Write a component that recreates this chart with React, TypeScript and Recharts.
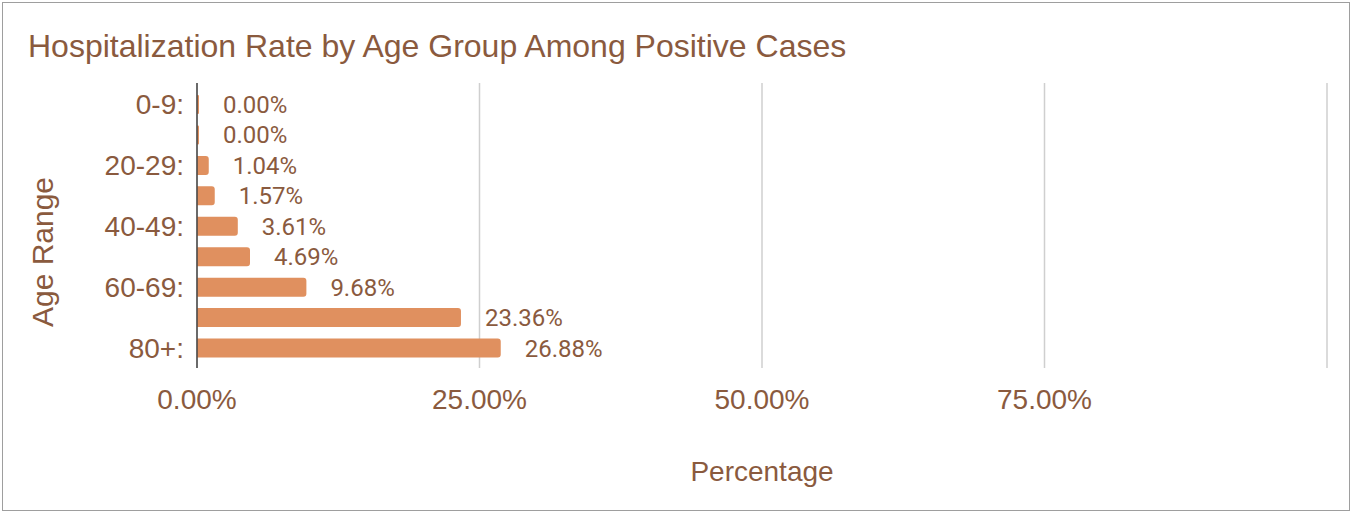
import React from 'react'
import { BarChart, Bar, XAxis, YAxis, CartesianGrid, LabelList, Label } from 'recharts'

const ageGroups = ['0-9', '10-19', '20-29', '30-39', '40-49', '50-59', '60-69', '70-79', '80+']
const hospitalRates = [0.0, 0.0, 1.04, 1.57, 3.61, 4.69, 9.68, 23.36, 26.88]
const xTicks = [0, 25, 50, 75, 100]

const TEXT = '#8a5a3e'
const BAR = '#e0905f'
const AXIS_FONT = '"Liberation Sans", Arial, sans-serif'

export default function App() {
  const data = ageGroups.map((age, i) => ({ age, rate: hospitalRates[i] }))

  return (
    <div style={{ position: 'absolute', left: 0, top: 0, width: 1351, height: 512, background: '#fff' }}>
      {/* outer frame */}
      <div
        style={{
          position: 'absolute', left: 2, top: 2, width: 1348, height: 509,
          boxSizing: 'border-box', border: '1px solid #9e9e9e',
        }}
      />
      <div
        style={{
          position: 'absolute', left: 28, top: 30, fontFamily: AXIS_FONT, fontSize: 32,
          lineHeight: '32px', color: TEXT, whiteSpace: 'nowrap',
        }}
      >
        Hospitalization Rate by Age Group Among Positive Cases
      </div>
      <div
        style={{
          position: 'absolute', left: 43, top: 252, transform: 'translate(-50%, -50%) rotate(-90deg)',
          fontFamily: AXIS_FONT, fontSize: 30, lineHeight: '30px', color: TEXT, whiteSpace: 'nowrap',
        }}
      >
        Age Range
      </div>

      <div style={{ position: 'absolute', left: 0, top: 0 }}>
        <BarChart
          width={1351}
          height={512}
          data={data}
          layout="vertical"
          margin={{ top: 83, right: 24, left: 77, bottom: 20 }}
        >
          <CartesianGrid horizontal={false} stroke="#cfcfcf" strokeWidth={1.5} />
          <XAxis
            type="number"
            dataKey="rate"
            domain={[0, 100]}
            ticks={xTicks}
            height={124}
            axisLine={false}
            tickLine={false}
            tickSize={0}
            tickMargin={21}
            tick={{ fill: TEXT, fontSize: 28, fontFamily: AXIS_FONT }}
            tickFormatter={(v: number) => (v >= 100 ? '' : `${v.toFixed(2)}%`)}
          >
            <Label
              value="Percentage"
              position="insideBottom"
              offset={11}
              fill={TEXT}
              fontSize={28}
              fontFamily={AXIS_FONT}
            />
          </XAxis>
          <YAxis
            type="category"
            dataKey="age"
            width={120}
            interval={1}
            padding={{ top: 6, bottom: 5 }}
            axisLine={{ stroke: '#444', strokeWidth: 1.5 }}
            tickLine={false}
            tickSize={0}
            tickMargin={13}
            tick={{ fill: TEXT, fontSize: 28, fontFamily: AXIS_FONT }}
            tickFormatter={(v: string) => `${v}:`}
          />
          <Bar
            dataKey="rate"
            fill={BAR}
            barSize={19}
            radius={[0, 3, 3, 0]}
            minPointSize={2}
            isAnimationActive={false}
          >
            <LabelList
              dataKey="rate"
              position="right"
              offset={24}
              fill={TEXT}
              fontSize={24}
              fontFamily="Roboto, sans-serif"
              formatter={(v: number) => `${Number(v).toFixed(2)}%`}
            />
          </Bar>
        </BarChart>
      </div>
    </div>
  )
}
